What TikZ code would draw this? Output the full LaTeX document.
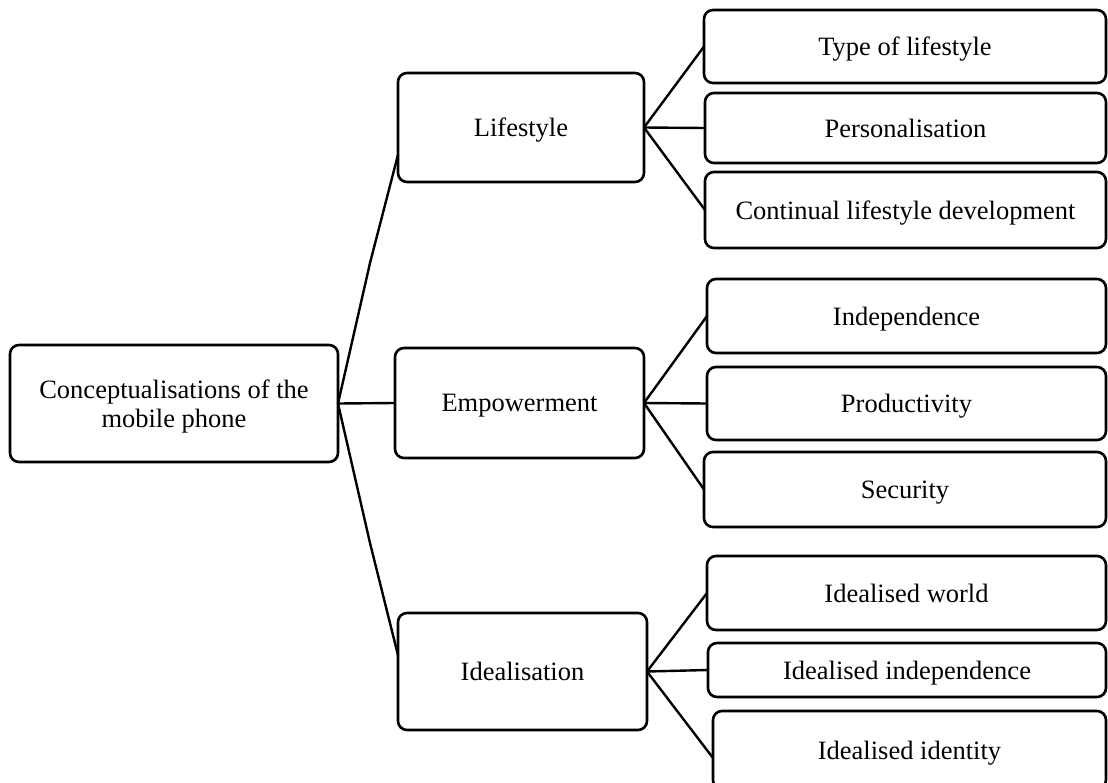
\documentclass[tikz,border=0pt]{standalone}
\usepackage{fontspec}
\setmainfont{Liberation Serif}
\usetikzlibrary{calc}
\begin{document}
\begin{tikzpicture}[x=1pt,y=-1pt,
  box/.style={draw, line width=2.6pt, rounded corners=9pt, rectangle, outer sep=0pt,
    inner sep=0pt, align=center, text depth=0pt, font=\fontsize{26.5}{29}\selectfont},
  link/.style={line width=2.4pt}]
\useasboundingbox (0,0) rectangle (1108,782);

% root
\node[box, minimum width=328pt, minimum height=117pt] (root) at (174,403.5)
  {Conceptualisations of the\\mobile phone};

% second level
\node[box, minimum width=246pt, minimum height=109pt] (life) at (521,127.5) {Lifestyle};
\node[box, minimum width=249pt, minimum height=110pt] (emp) at (519.5,403) {Empowerment};
\node[box, minimum width=249pt, minimum height=117pt] (ideal) at (522.5,671.5) {Idealisation};

% third level
\node[box, minimum width=402pt, minimum height=73pt] (type) at (905,46.5) {Type of lifestyle};
\node[box, minimum width=401pt, minimum height=70pt] (pers) at (905.5,128) {Personalisation};
\node[box, minimum width=401pt, minimum height=76pt] (cont) at (905.5,210) {Continual lifestyle development};
\node[box, minimum width=399pt, minimum height=74pt] (indep) at (906.5,316) {Independence};
\node[box, minimum width=399pt, minimum height=73pt] (prod) at (906.5,403.5) {Productivity};
\node[box, minimum width=402pt, minimum height=75pt] (sec) at (905,489.5) {Security};
\node[box, minimum width=399pt, minimum height=74pt] (world) at (906.5,593) {Idealised world};
\node[box, minimum width=398pt, minimum height=54pt] (iind) at (907,670) {Idealised independence};
\node[box, minimum width=393pt, minimum height=78pt] (ident) at (909.5,750) {Idealised identity};

% bends of the long connectors
\coordinate (kup) at (370,263);
\coordinate (kdown) at (370,543);

% root to second level
\draw[link] (root.east) -- (kup) -- ($(life.south west)!0.25!(life.north west)$);
\draw[link] (root.east) -- (emp.west);
\draw[link] (root.east) -- (kdown) -- ($(ideal.north west)!0.36!(ideal.south west)$);

% second level to third level
\draw[link] (life.east) -- (type.west);
\draw[link] (life.east) -- (pers.west);
\draw[link] (life.east) -- (cont.west);
\draw[link] (emp.east) -- (indep.west);
\draw[link] (emp.east) -- (prod.west);
\draw[link] (emp.east) -- (sec.west);
\draw[link] (ideal.east) -- (world.west);
\draw[link] (ideal.east) -- (iind.west);
\draw[link] (ideal.east) -- ($(ident.west)+(0,8)$);
\end{tikzpicture}
\end{document}
